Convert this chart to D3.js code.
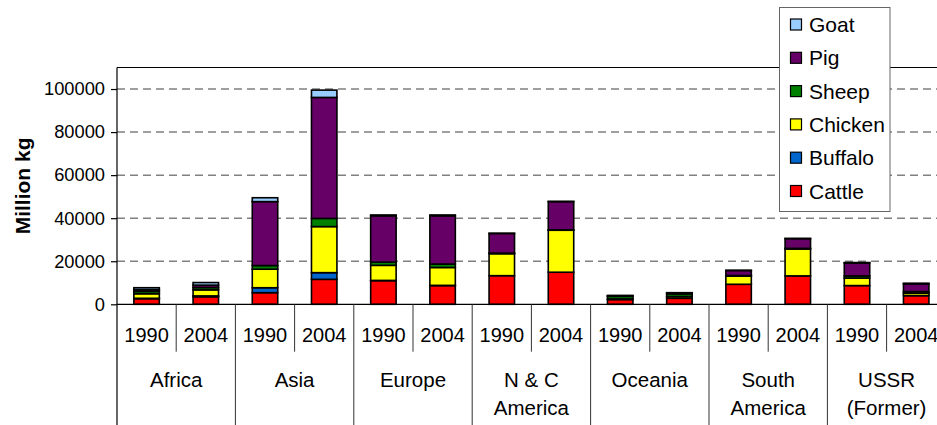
<!DOCTYPE html>
<html>
<head>
<meta charset="utf-8">
<script src="https://cdn.jsdelivr.net/npm/d3@7"></script>
<style>
html,body{margin:0;padding:0;background:#fff;overflow:hidden;}
svg{display:block;font-family:Arial,"Liberation Sans",sans-serif;}
</style>
</head>
<body>
<svg id="chart" width="937" height="425"></svg>
<script>
// ---- data ----
const regions = ["Africa", "Asia", "Europe", "N & C|America", "Oceania", "South|America", "USSR|(Former)"];
const years = ["1990", "2004"];
const seriesNames = ["Cattle", "Buffalo", "Chicken", "Sheep", "Pig", "Goat"];
const seriesColors = ["#FF0000", "#0066CC", "#FFFF00", "#008000", "#660066", "#99CCFF"];
// values in million kg, order: region x year (Africa 1990, Africa 2004, Asia 1990, ...)
const cattle  = [2600, 3500, 5400, 11600, 11000, 8700, 13300, 14900, 2200, 2800, 9300, 13200, 8700, 4000];
const buffalo = [200, 400, 2300, 3100, 100, 100, 0, 0, 0, 0, 0, 0, 0, 0];
const chicken = [2100, 2800, 8600, 21400, 7000, 8300, 10200, 19500, 300, 800, 3800, 12500, 3500, 1100];
const sheep   = [1100, 1100, 1700, 3800, 1500, 1600, 300, 200, 1200, 1200, 300, 300, 1000, 800];
const pig     = [800, 1100, 29700, 56200, 21500, 22400, 9100, 13100, 300, 500, 2300, 4500, 6000, 3600];
const goat    = [900, 1200, 1800, 3400, 400, 400, 100, 100, 100, 100, 100, 100, 200, 300];
const yTicks = [0, 20000, 40000, 60000, 80000, 100000];
const yMax = 110000;
const yTitle = "Million kg";

(function () {
const seriesValues = [cattle, buffalo, chicken, sheep, pig, goat];
const slots = [];
regions.forEach((r, ri) => years.forEach((yr, yi) => slots.push({id: ri + "_" + yi, region: r, year: yr})));
const rows = slots.map((s, i) => {
  const o = {id: s.id};
  seriesNames.forEach((n, k) => o[n] = seriesValues[k][i]);
  return o;
});
const stacked = d3.stack().keys(seriesNames)(rows);

const svg = d3.select("#chart");
const pLeft = 117, pTop = 67.5, pBottom = 304.3;
const step = 59.2;
const pRight = pLeft + step * slots.length;

const y = d3.scaleLinear().domain([0, yMax]).range([pBottom, pTop]);
const xSlot = d3.scaleBand().domain(slots.map(s => s.id)).range([pLeft, pRight]).padding(0);
const xBar = d3.scaleBand().domain(slots.map(s => s.id)).range([pLeft, pRight]).paddingInner(0.57).paddingOuter(0.285);

// gridlines
svg.append("g").selectAll("line").data(yTicks.filter(t => t > 0)).join("line")
  .attr("x1", pLeft).attr("x2", pRight)
  .attr("y1", d => y(d)).attr("y2", d => y(d))
  .attr("stroke", "#808080").attr("stroke-width", 1.5).attr("stroke-dasharray", "8,5");

// top border of plot area
svg.append("line").attr("x1", pLeft).attr("x2", pRight).attr("y1", y(yMax)).attr("y2", y(yMax))
  .attr("stroke", "#000").attr("stroke-width", 1.2);

// bars
const gBars = svg.append("g");
stacked.forEach((layer, k) => {
  gBars.append("g").selectAll("rect").data(layer.filter(d => d[1] - d[0] > 0)).join("rect")
    .attr("x", d => xBar(d.data.id))
    .attr("width", xBar.bandwidth())
    .attr("y", d => y(d[1]))
    .attr("height", d => y(d[0]) - y(d[1]))
    .attr("fill", seriesColors[k])
    .attr("stroke", "#000").attr("stroke-width", 1.6);
});

// y axis
const yAxis = d3.axisLeft(y).tickValues(yTicks).tickSize(6).tickPadding(6).tickFormat(d3.format("d"));
const gy = svg.append("g").attr("transform", `translate(${pLeft},0)`).call(yAxis);
gy.select(".domain").remove();
gy.selectAll(".tick line").attr("stroke", "#000").attr("stroke-width", 1.2);
gy.selectAll(".tick text").attr("font-size", 18.3).attr("fill", "#000").attr("font-family", "Arial, 'Liberation Sans', sans-serif");
svg.append("line").attr("x1", pLeft).attr("x2", pLeft).attr("y1", y(yMax)).attr("y2", 425)
  .attr("stroke", "#000").attr("stroke-width", 1.2);

// x axis line
svg.append("line").attr("x1", pLeft).attr("x2", pRight).attr("y1", pBottom).attr("y2", pBottom)
  .attr("stroke", "#000").attr("stroke-width", 1.2);

// separators
const gx = svg.append("g");
slots.forEach((s, i) => {
  if (i === 0) return;
  const xx = xSlot(s.id);
  const isGroup = i % years.length === 0;
  gx.append("line").attr("x1", xx).attr("x2", xx).attr("y1", pBottom).attr("y2", isGroup ? 425 : 351.7)
    .attr("stroke", "#333").attr("stroke-width", 1);
});
// year labels
gx.selectAll("text.yr").data(slots).join("text").attr("class", "yr")
  .attr("x", d => xSlot(d.id) + xSlot.bandwidth() / 2).attr("y", 342.3)
  .attr("text-anchor", "middle").attr("font-size", 20).attr("fill", "#000")
  .text(d => d.year);
// region labels
regions.forEach((r, ri) => {
  const first = slots[ri * years.length].id;
  const cx = xSlot(first) + xSlot.bandwidth() * years.length / 2;
  const lines = r.split("|");
  const t = gx.append("text").attr("x", cx).attr("y", 387.3).attr("text-anchor", "middle")
    .attr("font-size", 20.5).attr("fill", "#000");
  lines.forEach((ln, li) => t.append("tspan").attr("x", cx).attr("dy", li === 0 ? 0 : 28).text(ln));
});

// y title
svg.append("text").attr("transform", `translate(30,${(pTop + pBottom) / 2}) rotate(-90)`)
  .attr("text-anchor", "middle").attr("font-size", 21).attr("font-weight", "bold").attr("fill", "#000")
  .text(yTitle);

// legend
const lg = svg.append("g");
lg.append("rect").attr("x", 779.5).attr("y", 7.5).attr("width", 110.5).attr("height", 204)
  .attr("fill", "#fff").attr("stroke", "#666").attr("stroke-width", 1);
const legendOrder = seriesNames.slice().reverse();
const ly = d3.scalePoint().domain(legendOrder).range([24.5, 191]);
legendOrder.forEach(n => {
  const k = seriesNames.indexOf(n);
  lg.append("rect").attr("x", 790.5).attr("y", ly(n) - 5.5).attr("width", 11).attr("height", 11)
    .attr("fill", seriesColors[k]).attr("stroke", "#000").attr("stroke-width", 1.2);
  lg.append("text").attr("x", 809).attr("y", ly(n)).attr("dy", "0.36em")
    .attr("font-size", 21).attr("fill", "#000").text(n);
});
})();
</script>
</body>
</html>
